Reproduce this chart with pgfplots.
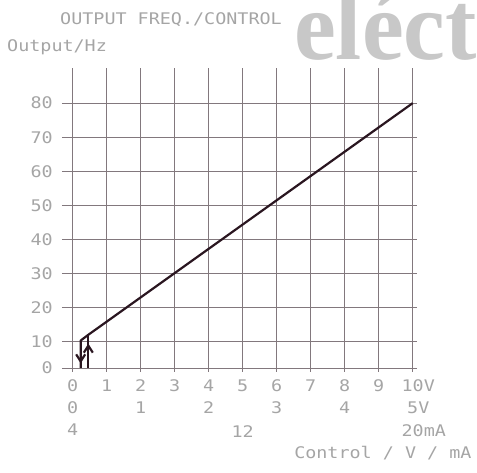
\documentclass[border=0pt]{standalone}
\usepackage{fontspec}
\setmainfont{DejaVu Sans Mono}[FakeStretch=1.15]
\newfontfamily\wmfont{Liberation Serif}
\usepackage{pgfplots}
\pgfplotsset{compat=1.18}
\usetikzlibrary{arrows.meta}
\definecolor{txt}{RGB}{165,165,165}
\definecolor{gridc}{RGB}{130,120,125}
\definecolor{curve}{RGB}{42,22,32}
\definecolor{wm}{RGB}{200,200,200}
\newcommand{\lblfont}{\fontsize{16bp}{18bp}\selectfont}
\tikzset{lbl/.style={font=\lblfont, text=txt, inner sep=0pt, anchor=center}}
\begin{document}
\begin{tikzpicture}
\path[use as bounding box] (0bp,0bp) rectangle (477bp,473bp);
\node[anchor=base west, inner sep=0pt, text=wm] at (294bp,413bp) {\scalebox{0.96}[1]{\wmfont\bfseries\fontsize{98bp}{100bp}\selectfont eléct}};
\begin{axis}[
  at={(61.8bp,101.3bp)}, anchor=south west,
  scale only axis, width=355bp, height=304bp,
  xmin=-0.32, xmax=10.12, ymin=1.16, ymax=90.4,
  axis line style={draw=none},
  major tick length=0pt,
  grid=major, grid style={gridc, line width=0.6bp},
  xtick={0,1,2,3,4,5,6,7,8,9,10},
  xticklabels={0,1,2,3,4,5,6,7,8,9,10\rlap{V}},
  ytick={2.25,10,20,30,40,50,60,70,80},
  yticklabels={0,10,20,30,40,50,60,70,80},
  tick label style={font=\lblfont, text=txt, inner sep=0pt},
  yticklabel style={anchor=east, xshift=-8.8bp},
  xticklabel style={anchor=center, yshift=-14.3bp},
  clip=false,
]
\addplot[curve, line width=2.2bp, line join=round] coordinates {(0.235,2.25) (0.235,10.3) (0.46,12) (10,80)};
\addplot[curve, line width=2.2bp] coordinates {(0.46,2.25) (0.46,12)};
\addplot[curve, line width=2.2bp, -{Straight Barb[length=7bp,width=9bp]}] coordinates {(0.235,6) (0.235,3.6)};
\addplot[curve, line width=2.2bp, -{Straight Barb[length=7bp,width=9bp]}] coordinates {(0.46,5) (0.46,9.4)};
\node[lbl, yshift=-36.3bp] at (axis cs:0,1.16) {0};
\node[lbl, yshift=-36.3bp] at (axis cs:2,1.16) {1};
\node[lbl, yshift=-36.3bp] at (axis cs:4,1.16) {2};
\node[lbl, yshift=-36.3bp] at (axis cs:6,1.16) {3};
\node[lbl, yshift=-36.3bp] at (axis cs:8,1.16) {4};
\node[lbl, yshift=-36.3bp] at (axis cs:10,1.16) {5\rlap{V}};
\node[lbl, yshift=-58.3bp] at (axis cs:0,1.16) {4};
\node[lbl, yshift=-60bp] at (axis cs:5,1.16) {12};
\node[lbl, yshift=-58.5bp] at (axis cs:10,1.16) {20\rlap{mA}};
\end{axis}
\node[anchor=base west, inner sep=0pt, text=txt, font=\lblfont] at (60bp,448bp) {OUTPUT FREQ./CONTROL};
\node[anchor=base west, inner sep=0pt, text=txt, font=\lblfont] at (7bp,421bp) {Output/Hz};
\node[anchor=base east, inner sep=0pt, text=txt, font=\lblfont] at (471.7bp,15bp) {Control / V / mA};
\end{tikzpicture}
\end{document}
